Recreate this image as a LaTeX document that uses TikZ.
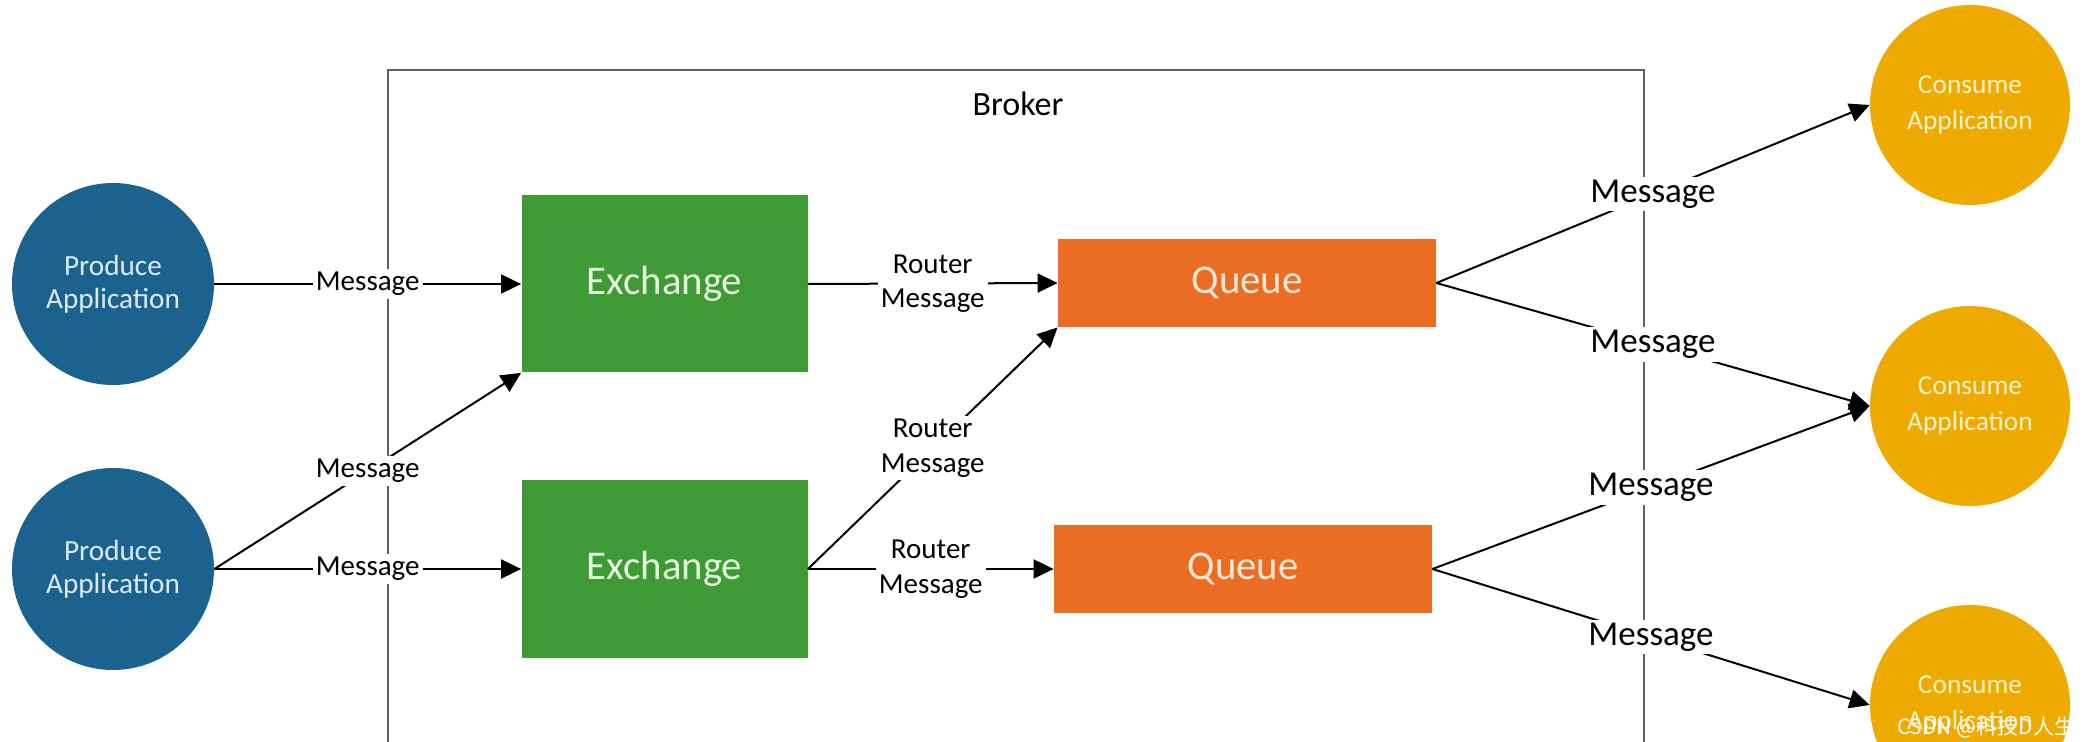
\documentclass[tikz,border=0pt]{standalone}
\usepackage{fontspec}
\setmainfont{Carlito}
\newfontfamily\cjkfont{Noto Sans CJK SC}
\usetikzlibrary{arrows.meta,positioning}
\definecolor{produceblue}{RGB}{27,99,142}
\definecolor{exgreen}{RGB}{61,154,52}
\definecolor{queueorange}{RGB}{235,108,35}
\definecolor{consumegold}{RGB}{238,170,0}
\definecolor{brokergray}{RGB}{96,96,96}
\tikzset{
  app/.style={circle,inner sep=0pt,align=center},
  produce/.style={app,fill=produceblue,minimum size=101pt,text={rgb,255:red,222;green,235;blue,247},
    font=\fontsize{14.6pt}{16.6pt}\selectfont},
  consume/.style={app,fill=consumegold,minimum size=100pt,text={rgb,255:red,255;green,242;blue,204},
    font=\fontsize{13.7pt}{18pt}\selectfont},
  exbox/.style={rectangle,fill=exgreen,minimum width=143pt,minimum height=88.5pt,
    text={rgb,255:red,232;green,245;blue,222},font=\fontsize{20.4pt}{24pt}\selectfont},
  qbox/.style={rectangle,fill=queueorange,minimum width=189pt,minimum height=44pt,
    text={rgb,255:red,253;green,232;blue,218},font=\fontsize{20.4pt}{24pt}\selectfont},
  msg/.style={line width=1pt,-{Triangle[length=10pt,width=9.5pt]}},
  lbl/.style={fill=white,inner sep=1.5pt,font=\fontsize{14.5pt}{17.3pt}\selectfont,align=center},
  biglbl/.style={fill=white,inner sep=1.5pt,font=\fontsize{17.5pt}{20pt}\selectfont}
}
\begin{document}
\begin{tikzpicture}[x=0.5pt,y=-0.5pt]
  \useasboundingbox (0,0) rectangle (2086,742);
  % Broker
  \draw[brokergray,line width=1.4pt] (388,760) |- (1644,70) -- (1644,760);
  \node[font=\fontsize{17pt}{20pt}\selectfont] (broker) at (1018,104) {Broker};

  % Producers
  \node[produce] (p1) at (113,284) {Produce\\Application};
  \node[produce] (p2) at (113,569) {Produce\\Application};

  % Exchanges
  \node[exbox] (ex1) at (664.5,284) {Exchange};
  \node[exbox] (ex2) at (664.5,569) {Exchange};

  % Queues
  \node[qbox] (q1) at (1247,283) {Queue};
  \node[qbox] (q2) at (1243,569) {Queue};

  % Consumers
  \node[consume] (c1) at (1970,105) {Consume\\Application};
  \node[consume] (c2) at (1970,406) {Consume\\Application};
  \node[consume] (c3) at (1970,705) {Consume\\Application};

  % Producer -> Exchange
  \draw[msg] (p1.east) -- node[lbl]{Message} (ex1.west);
  \draw[msg] (p2.east) -- node[lbl]{Message} (ex1.south west);
  \draw[msg] (p2.east) -- node[lbl]{Message} (ex2.west);

  % Exchange -> Queue
  \draw[msg] (ex1.east) -- node[lbl]{Router\\Message} (q1.west);
  \draw[msg] (ex2.east) -- node[lbl]{Router\\Message} (q1.south west);
  \draw[msg] (ex2.east) -- node[lbl]{Router\\Message} (q2.west);

  % Queue -> Consumer
  \draw[msg] (q1.east) -- node[biglbl]{Message} (c1.west);
  \draw[msg] (q1.east) -- node[biglbl]{Message} (c2.west);
  \draw[msg] (q2.east) -- node[biglbl]{Message} (c2.west);
  \draw[msg] (q2.east) -- node[biglbl]{Message} (c3.west);

  % watermark
  \node[text=white,font=\cjkfont\fontsize{10.5pt}{12pt}\selectfont] (mark) at (1986,727) {CSDN @科技D人生};
\end{tikzpicture}
\end{document}
